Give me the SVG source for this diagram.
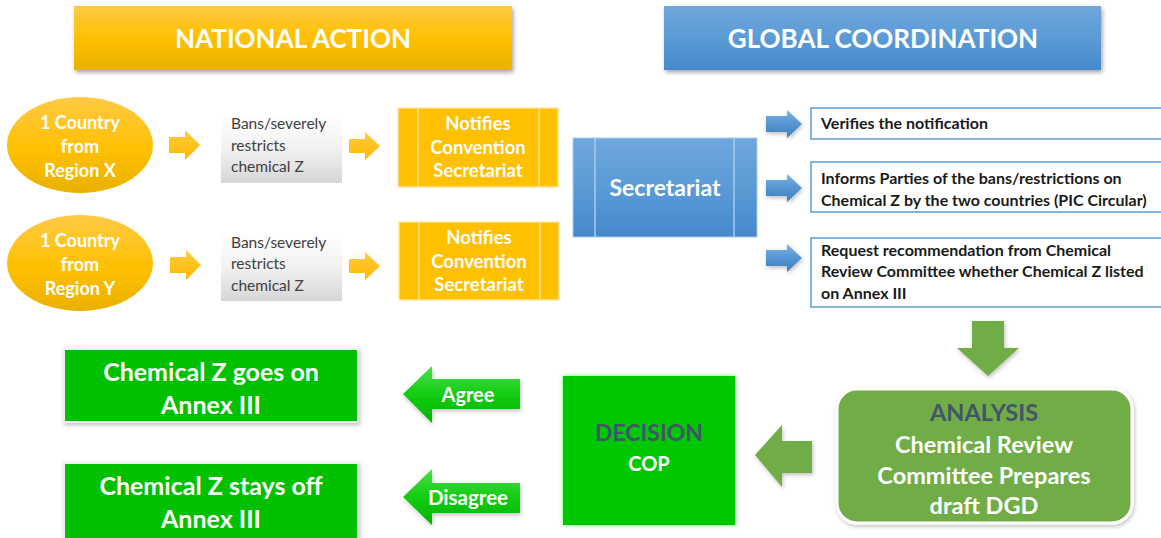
<svg xmlns="http://www.w3.org/2000/svg" width="1161" height="538" viewBox="0 0 1161 538">
  <defs>
    <linearGradient id="gHeadYellow" x1="0" y1="0" x2="0" y2="1">
      <stop offset="0" stop-color="#FFCA45"/>
      <stop offset="0.5" stop-color="#FFC000"/>
      <stop offset="1" stop-color="#E8B200"/>
    </linearGradient>
    <linearGradient id="gHeadBlue" x1="0" y1="0" x2="0" y2="1">
      <stop offset="0" stop-color="#70A7DD"/>
      <stop offset="0.5" stop-color="#5B9BD5"/>
      <stop offset="1" stop-color="#4689CB"/>
    </linearGradient>
    <linearGradient id="gEllipse" x1="0" y1="0" x2="0" y2="1">
      <stop offset="0" stop-color="#FFCA45"/>
      <stop offset="0.55" stop-color="#FFC000"/>
      <stop offset="1" stop-color="#E9B000"/>
    </linearGradient>
    <linearGradient id="gGray" x1="0" y1="0" x2="0" y2="1">
      <stop offset="0" stop-color="#FFFFFF"/>
      <stop offset="0.5" stop-color="#F2F2F2"/>
      <stop offset="1" stop-color="#D6D6D6"/>
    </linearGradient>
    <linearGradient id="gYellowArrow" x1="0" y1="0" x2="0" y2="1">
      <stop offset="0" stop-color="#FFCC40"/>
      <stop offset="1" stop-color="#FFB900"/>
    </linearGradient>
    <linearGradient id="gSecretariat" x1="0" y1="0" x2="0" y2="1">
      <stop offset="0" stop-color="#70A7DD"/>
      <stop offset="0.5" stop-color="#5A9AD6"/>
      <stop offset="1" stop-color="#4689CB"/>
    </linearGradient>
    <linearGradient id="gBlueArrow" x1="0" y1="0" x2="0" y2="1">
      <stop offset="0" stop-color="#7DB3E6"/>
      <stop offset="0.5" stop-color="#5595D3"/>
      <stop offset="1" stop-color="#3F7FBF"/>
    </linearGradient>
    <linearGradient id="gGreenArrow" x1="0" y1="0" x2="0" y2="1">
      <stop offset="0" stop-color="#4BE04B"/>
      <stop offset="0.5" stop-color="#14CC14"/>
      <stop offset="1" stop-color="#00B400"/>
    </linearGradient>
    <filter id="shadow" x="-10%" y="-20%" width="120%" height="150%">
      <feDropShadow dx="1.5" dy="2.5" stdDeviation="2" flood-color="#000" flood-opacity="0.35"/>
    </filter>
    <filter id="softShadow" x="-10%" y="-10%" width="120%" height="130%">
      <feDropShadow dx="1" dy="2" stdDeviation="2" flood-color="#000" flood-opacity="0.25"/>
    </filter>
    <filter id="glow" x="-10%" y="-10%" width="120%" height="120%">
      <feDropShadow dx="0" dy="0" stdDeviation="2" flood-color="#33FF33" flood-opacity="0.8"/>
    </filter>
    <style>
      .t { font-family: Lato, "Open Sans", "Liberation Sans", sans-serif; }
      .b { font-weight: bold; }
      .w { fill: #FFFFFF; }
      .dark { fill: #44546A; }
      .gray { fill: #404040; }
      .blk { fill: #1A1A1A; }
      .mid { text-anchor: middle; }
      .box { fill: #FFFFFF; stroke: #5B9BD5; stroke-width: 1.5; }
      .notify { fill: #FFC000; stroke: #FFE699; stroke-width: 1.5; }
      .notifyLine { stroke: #FFE699; stroke-width: 1.5; }
      .secLine { stroke: #A9CBEB; stroke-width: 1.5; }
      .result { fill: #00C000; stroke: #F0F0F0; stroke-width: 2; }
    </style>
  </defs>

  <rect width="1161" height="538" fill="#FFFFFF"/>

  <!-- column headers -->
  <g id="header-national">
    <rect x="74" y="6" width="438" height="64" fill="url(#gHeadYellow)" filter="url(#shadow)"/>
    <text class="t b w mid" x="293" y="48" font-size="26">NATIONAL ACTION</text>
  </g>
  <g id="header-global">
    <rect x="664" y="6" width="437" height="64" fill="url(#gHeadBlue)" filter="url(#shadow)"/>
    <text class="t b w mid" x="883" y="48" font-size="26">GLOBAL COORDINATION</text>
  </g>

  <!-- countries -->
  <g id="country-x">
    <ellipse cx="80" cy="145" rx="73" ry="48" fill="url(#gEllipse)"/>
    <text class="t b w mid" font-size="18"><tspan x="80" y="129">1 Country</tspan><tspan x="80" y="153">from</tspan><tspan x="80" y="177">Region X</tspan></text>
  </g>
  <g id="country-y">
    <ellipse cx="80" cy="263" rx="73" ry="48" fill="url(#gEllipse)"/>
    <text class="t b w mid" font-size="18"><tspan x="80" y="247">1 Country</tspan><tspan x="80" y="271">from</tspan><tspan x="80" y="295">Region Y</tspan></text>
  </g>

  <!-- national measures -->
  <g id="ban-x">
    <rect x="221" y="113" width="121" height="70" fill="url(#gGray)"/>
    <text class="t gray" font-size="15.5"><tspan x="231" y="129">Bans/severely</tspan><tspan x="231" y="151">restricts</tspan><tspan x="231" y="172">chemical Z</tspan></text>
  </g>
  <g id="ban-y">
    <rect x="221" y="231" width="121" height="70" fill="url(#gGray)"/>
    <text class="t gray" font-size="15.5"><tspan x="231" y="248">Bans/severely</tspan><tspan x="231" y="269">restricts</tspan><tspan x="231" y="291">chemical Z</tspan></text>
  </g>

  <!-- notifications -->
  <g id="notify-x">
    <rect class="notify" x="398" y="108" width="160" height="79"/>
    <line class="notifyLine" x1="418" y1="108" x2="418" y2="187"/>
    <line class="notifyLine" x1="539" y1="108" x2="539" y2="187"/>
    <text class="t b w mid" font-size="18.5"><tspan x="478" y="130">Notifies</tspan><tspan x="478" y="154">Convention</tspan><tspan x="478" y="177">Secretariat</tspan></text>
  </g>
  <g id="notify-y">
    <rect class="notify" x="399" y="222" width="160" height="78"/>
    <line class="notifyLine" x1="419" y1="222" x2="419" y2="300"/>
    <line class="notifyLine" x1="540" y1="222" x2="540" y2="300"/>
    <text class="t b w mid" font-size="18.5"><tspan x="479" y="244">Notifies</tspan><tspan x="479" y="268">Convention</tspan><tspan x="479" y="291">Secretariat</tspan></text>
  </g>

  <!-- secretariat -->
  <g id="secretariat">
    <rect x="573" y="138" width="184" height="99" fill="url(#gSecretariat)" stroke="#A9CBEB" stroke-width="1"/>
    <line class="secLine" x1="595" y1="138" x2="595" y2="237"/>
    <line class="secLine" x1="734" y1="138" x2="734" y2="237"/>
    <text class="t b w mid" x="665" y="196" font-size="23">Secretariat</text>
  </g>

  <!-- secretariat tasks -->
  <g id="task-verify">
    <rect class="box" x="811" y="108" width="352" height="31"/>
    <text class="t b blk" x="821" y="129" font-size="16">Verifies the notification</text>
  </g>
  <g id="task-inform">
    <rect class="box" x="811" y="162" width="352" height="50"/>
    <text class="t b blk" font-size="16"><tspan x="821" y="184">Informs Parties of the bans/restrictions on</tspan><tspan x="821" y="206">Chemical Z by the two countries (PIC Circular)</tspan></text>
  </g>
  <g id="task-request">
    <rect class="box" x="811" y="238" width="352" height="69"/>
    <text class="t b blk" font-size="16"><tspan x="821" y="256">Request recommendation from Chemical</tspan><tspan x="821" y="277">Review Committee whether Chemical Z listed</tspan><tspan x="821" y="299">on Annex III</tspan></text>
  </g>

  <!-- analysis -->
  <g id="analysis">
    <rect x="837" y="389" width="295" height="134" rx="20" ry="20" fill="#70AD47" stroke="#FFFFFF" stroke-width="3" filter="url(#softShadow)"/>
    <text class="t b dark mid" x="984" y="421" font-size="23.5">ANALYSIS</text>
    <text class="t b w mid" font-size="23.5"><tspan x="984" y="453">Chemical Review</tspan><tspan x="984" y="484">Committee Prepares</tspan><tspan x="984" y="514">draft DGD</tspan></text>
  </g>

  <!-- decision -->
  <g id="decision">
    <rect x="563" y="376" width="172" height="149" fill="#00C800" filter="url(#glow)"/>
    <text class="t b dark mid" x="649" y="441" font-size="23">DECISION</text>
    <text class="t b w mid" x="649" y="471" font-size="20">COP</text>
  </g>

  <!-- outcomes -->
  <g id="outcome-on">
    <rect class="result" x="64" y="349" width="294" height="73" filter="url(#softShadow)"/>
    <text class="t b w mid" font-size="25"><tspan x="211" y="381">Chemical Z goes on</tspan><tspan x="211" y="414">Annex III</tspan></text>
  </g>
  <g id="outcome-off">
    <rect class="result" x="64" y="463" width="294" height="80" filter="url(#softShadow)"/>
    <text class="t b w mid" font-size="25"><tspan x="211" y="495">Chemical Z stays off</tspan><tspan x="211" y="528">Annex III</tspan></text>
  </g>

  <!-- connectors: block arrows -->
  <g id="connectors">
    <!-- country to measure -->
    <polygon points="169,137 185,137 185,130 200,145 185,160 185,153 169,153" fill="url(#gYellowArrow)"/>
    <polygon points="170,257 186,257 186,250 201,265 186,280 186,273 170,273" fill="url(#gYellowArrow)"/>
    <!-- measure to notification -->
    <polygon points="349,139 365,139 365,132 380,146 365,160 365,153 349,153" fill="url(#gYellowArrow)"/>
    <polygon points="349,259 365,259 365,252 380,266 365,280 365,273 349,273" fill="url(#gYellowArrow)"/>
    <!-- secretariat to tasks -->
    <polygon points="766,116 787,116 787,110 802,124 787,138 787,132 766,132" fill="url(#gBlueArrow)" filter="url(#softShadow)"/>
    <polygon points="766,180 787,180 787,174 802,188 787,202 787,196 766,196" fill="url(#gBlueArrow)" filter="url(#softShadow)"/>
    <polygon points="766,250 787,250 787,244 802,258 787,272 787,266 766,266" fill="url(#gBlueArrow)" filter="url(#softShadow)"/>
    <!-- request to analysis -->
    <polygon points="972,321 1004,321 1004,348 1019,348 988,376 957,348 972,348" fill="#70AD47" filter="url(#softShadow)"/>
    <!-- analysis to decision -->
    <polygon points="812,441 812,473 782,473 782,487 755,455 782,425 782,441" fill="#70AD47" filter="url(#softShadow)"/>
    <!-- decision outcomes -->
    <g id="arrow-agree">
      <polygon points="520,379 520,409 432,409 432,423 403,394 432,366 432,379" fill="url(#gGreenArrow)" filter="url(#softShadow)"/>
      <text class="t b w mid" x="468" y="402" font-size="20">Agree</text>
    </g>
    <g id="arrow-disagree">
      <polygon points="520,483 520,513 432,513 432,525 403,497 432,469 432,483" fill="url(#gGreenArrow)" filter="url(#softShadow)"/>
      <text class="t b w mid" x="468" y="505" font-size="20.5">Disagree</text>
    </g>
  </g>
</svg>
